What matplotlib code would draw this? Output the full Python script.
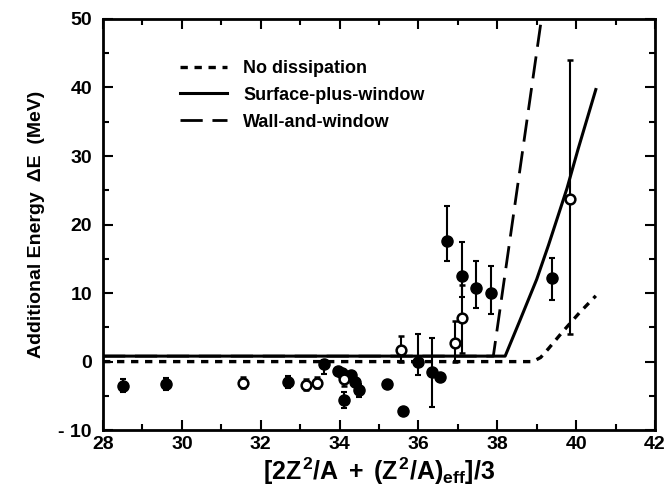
import numpy as np
import matplotlib
matplotlib.use("Agg")
import matplotlib.pyplot as plt

plt.rcParams['font.family'] = ['Liberation Sans', 'DejaVu Sans']
plt.rcParams['font.weight'] = 'bold'
plt.rcParams['axes.labelweight'] = 'bold'
plt.rcParams['mathtext.fontset'] = 'custom'
plt.rcParams['mathtext.rm'] = 'Liberation Sans:bold'
plt.rcParams['mathtext.it'] = 'Liberation Sans:bold'
plt.rcParams['mathtext.bf'] = 'Liberation Sans:bold'

# filled points: x, y, lower error, upper error
filled_x = [28.5, 29.6, 32.7, 33.6, 33.95, 34.05, 34.1, 34.3, 34.4, 34.5,
            35.2, 35.6, 36.0, 36.35, 36.55, 36.73, 37.1, 37.47, 37.85, 39.4]
filled_y = [-3.5, -3.3, -3.0, -0.3, -1.3, -1.7, -5.6, -2.0, -3.0, -4.2,
            -3.2, -7.2, -0.1, -1.5, -2.3, 17.6, 12.5, 10.7, 10.0, 12.2]
filled_lo = [0.9, 0.9, 0.9, 1.5, 0.0, 0.0, 1.2, 0.0, 0.0, 1.0,
             0.0, 0.0, 1.9, 5.1, 0.0, 2.9, 3.1, 2.9, 3.1, 3.2]
filled_hi = [0.9, 0.9, 0.9, 0.6, 0.0, 0.0, 1.2, 0.0, 0.0, 1.0,
             0.0, 0.0, 4.1, 4.9, 0.0, 5.1, 4.9, 4.0, 3.9, 2.9]

# open points
open_x = [31.55, 33.14, 33.44, 34.1, 35.57, 36.94, 37.1, 39.85]
open_y = [-3.1, -3.4, -3.1, -2.6, 1.7, 2.7, 6.3, 23.8]
open_lo = [0.8, 0.8, 0.8, 1.0, 1.7, 2.7, 5.1, 19.8]
open_hi = [0.8, 0.8, 0.8, 1.0, 2.0, 3.2, 4.9, 20.2]

# model curves
nodiss_x = [28, 38.9, 39.1, 39.3, 39.65, 40.08, 40.5]
nodiss_y = [0, 0, 0.6, 1.9, 4.3, 7.1, 9.6]
surf_x = [28, 38.2, 38.56, 39.0, 39.3, 39.77, 40.05, 40.5]
surf_y = [0.8, 0.8, 5.8, 12.0, 17.0, 25.3, 31.0, 39.7]
wall_x = [28, 37.9, 39.12]
wall_y = [0.8, 0.8, 50.0]

xticks = [28, 30, 32, 34, 36, 38, 40, 42]
yticks = [-10, 0, 10, 20, 30, 40, 50]
ytick_labels = ['- 10', '0', '10', '20', '30', '40', '50']

fig = plt.figure(figsize=(6.69, 4.99), dpi=100)
ax = fig.add_axes([0.154, 0.138, 0.825, 0.824])

ax.plot(nodiss_x, nodiss_y, color='black', lw=2.4, dashes=(2.2, 2.0),
        label='No dissipation')
ax.plot(surf_x, surf_y, color='black', lw=2.2, label='Surface-plus-window')
ax.plot(wall_x, wall_y, color='black', lw=2.0, dashes=(8, 3.5),
        label='Wall-and-window')

ax.errorbar(filled_x, filled_y, yerr=[filled_lo, filled_hi], fmt='o',
            color='black', ms=8, elinewidth=1.5, capsize=2, capthick=1.5)
ax.errorbar(open_x, open_y, yerr=[open_lo, open_hi], fmt='o',
            color='black', mfc='white', mec='black', mew=1.8, ms=7,
            elinewidth=1.5, capsize=2, capthick=1.5)

ax.set_xlim(28, 42)
ax.set_ylim(-10, 50)
ax.set_xticks(xticks)
ax.set_xticks(np.arange(28, 42, 1), minor=True)
ax.set_yticks(yticks)
ax.set_yticklabels(ytick_labels)
ax.set_yticks(np.arange(-10, 50, 5), minor=True)
ax.tick_params(which='both', direction='in', top=True, right=True,
               labelsize=14, width=1.5)
ax.tick_params(which='major', length=7)
ax.tick_params(axis='x', which='major', pad=4)
ax.tick_params(axis='y', which='major', pad=8)
ax.tick_params(which='minor', length=4)
for s in ax.spines.values():
    s.set_linewidth(2)

ax.set_xlabel(r'$[2Z^2/A\;+\;(Z^2/A)_{eff}]/3$', fontsize=18, labelpad=2)
ax.set_ylabel('Additional Energy  \u0394E  (MeV)', fontsize=14,
              fontweight='bold', labelpad=10)

ax.legend(loc='upper left', bbox_to_anchor=(0.11, 0.94), frameon=False,
          fontsize=13, handlelength=2.6, handletextpad=0.9, labelspacing=0.55)

fig.savefig('out.png', dpi=100)
